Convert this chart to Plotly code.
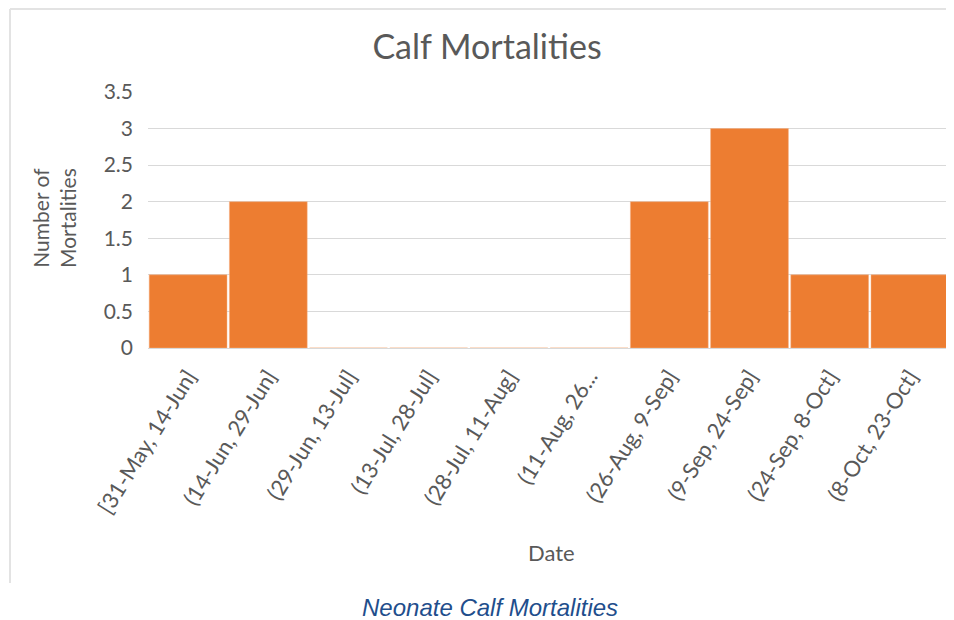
import plotly.graph_objects as go

categories = ["[31-May, 14-Jun]", "(14-Jun, 29-Jun]", "(29-Jun, 13-Jul]", "(13-Jul, 28-Jul]",
              "(28-Jul, 11-Aug]", "(11-Aug, 26...", "(26-Aug, 9-Sep]", "(9-Sep, 24-Sep]",
              "(24-Sep, 8-Oct]", "(8-Oct, 23-Oct]"]
mortalities = [1, 2, 0, 0, 0, 0, 2, 3, 1, 1]
y_ticks = [0, 0.5, 1, 1.5, 2, 2.5, 3, 3.5]
y_tick_labels = ["0", "0.5", "1", "1.5", "2", "2.5", "3", "3.5"]

OFF = 8  # page body offset
W, H = 954 - OFF, 620 - OFF
# target pixel positions in the screenshot
PL, PR, PT, PB = 148, 950, 92, 348
L, T = PL - OFF, PT - OFF
R = W - (PR - OFF)
B = H - (PB - OFF)
pw, ph = W - L - R, H - T - B

def px(x):
    return (x - OFF - L) / pw

def py(y):
    return (H - B - (y - OFF)) / ph

FONT = "Lato"
GRAY = "#595959"

fig = go.Figure(go.Bar(
    x=categories, y=mortalities,
    marker=dict(color="#ED7D31", line=dict(color="#F4B183", width=0.5)),
))

fig.update_layout(
    width=W, height=H,
    margin=dict(l=L, r=R, t=T, b=B),
    paper_bgcolor="white", plot_bgcolor="white",
    bargap=0.03,
    showlegend=False,
    font=dict(family=FONT, color=GRAY),
    title=dict(text="Calf Mortalities", x=px(487), xref="paper", xanchor="center",
               y=1 - (47 - OFF) / H, yanchor="middle",
               font=dict(family=FONT, size=34, color=GRAY)),
    xaxis=dict(tickangle=-58, tickfont=dict(size=22, color=GRAY), showgrid=False,
               showline=True, linecolor="#D9D9D9", linewidth=1, ticks="", ticklabelstandoff=6),
    yaxis=dict(range=[0, 3.5], tickvals=y_ticks, ticktext=y_tick_labels,
               tickfont=dict(size=21, color=GRAY), showgrid=True, gridcolor="#D9D9D9",
               gridwidth=1, zeroline=False, ticks="", ticklen=0, ticklabelstandoff=14),
)

fig.add_annotation(text="Number of<br>Mortalities", x=px(54), y=py(218), xref="paper", yref="paper",
                   xanchor="center", yanchor="middle",
                   textangle=-90, showarrow=False, font=dict(family=FONT, size=21, color=GRAY))
fig.add_annotation(text="Date", x=px(551), y=py(552), xref="paper", yref="paper",
                   xanchor="center", yanchor="middle",
                   showarrow=False, font=dict(family=FONT, size=22, color=GRAY))
fig.add_annotation(text="<i>Neonate Calf Mortalities</i>", x=px(490), y=py(607), xref="paper", yref="paper",
                   xanchor="center", yanchor="middle",
                   showarrow=False, font=dict(family="Liberation Sans", size=24, color="#1F4E8C"))

fig.add_shape(type="line", xref="paper", yref="paper", x0=px(10), x1=px(10), y0=py(9), y1=py(583),
              line=dict(color="#E3E3E3", width=2))
fig.add_shape(type="line", xref="paper", yref="paper", x0=px(10), x1=px(954), y0=py(9), y1=py(9),
              line=dict(color="#E3E3E3", width=2))

fig.write_html("out.html")
